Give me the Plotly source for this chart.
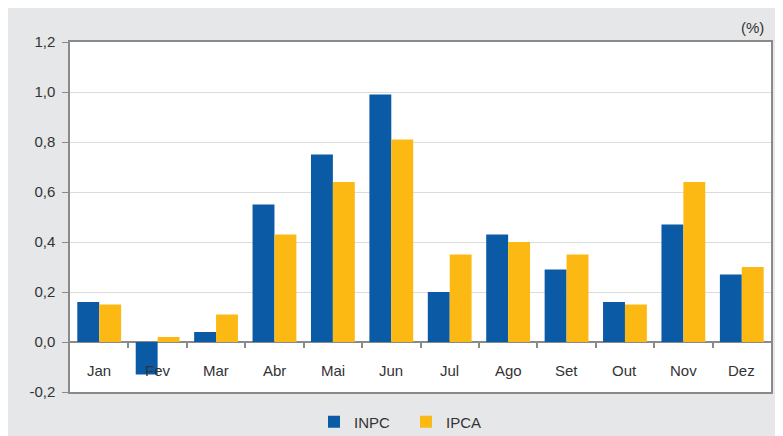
import plotly.graph_objects as go

months = ["Jan", "Fev", "Mar", "Abr", "Mai", "Jun", "Jul", "Ago", "Set", "Out", "Nov", "Dez"]
inpc = [0.16, -0.13, 0.04, 0.55, 0.75, 0.99, 0.20, 0.43, 0.29, 0.16, 0.47, 0.27]
ipca = [0.15, 0.02, 0.11, 0.43, 0.64, 0.81, 0.35, 0.40, 0.35, 0.15, 0.64, 0.30]
y_ticks = [-0.2, 0.0, 0.2, 0.4, 0.6, 0.8, 1.0, 1.2]
y_tick_text = ["-0,2", "0,0", "0,2", "0,4", "0,6", "0,8", "1,0", "1,2"]

BLUE = "#0a5aa6"
YELLOW = "#fdb913"
GRAY_BG = "#e6e7e8"
FRAME = "#8a8a8a"
TXT = "#333333"
FONT = "Liberation Sans, Arial, sans-serif"

# the page body adds an 8px offset, so the figure is sized to fit the window
OFF = 8
W, H = 783 - OFF, 436 - OFF
L, R, T, B = 70 - OFF, 783 - 771, 42 - OFF, 436 - 392
pw, ph = W - L - R, H - T - B

fig = go.Figure()
fig.add_trace(go.Bar(x=months, y=inpc, name="INPC", marker_color=BLUE, marker_line_width=0))
fig.add_trace(go.Bar(x=months, y=ipca, name="IPCA", marker_color=YELLOW, marker_line_width=0))

# month labels placed inside the plot, below the zero line
for m in months:
    fig.add_annotation(x=m, y=-0.112, xref="x", yref="y", text=m, showarrow=False,
                       font=dict(size=15, color=TXT, family=FONT))

fig.add_annotation(x=1.0, y=1.0, xref="paper", yref="paper", text="(%)", showarrow=False,
                   xanchor="right", yanchor="bottom", xshift=-5, yshift=4,
                   font=dict(size=15, color=TXT, family=FONT))

fig.add_shape(type="rect", xref="paper", yref="paper", layer="below",
              x0=(0 - L) / pw, x1=(770 - L) / pw, y0=(H - B - H) / ph, y1=(H - B - 0) / ph,
              fillcolor=GRAY_BG, line_width=0)
fig.add_shape(type="rect", xref="paper", yref="paper", layer="below",
              x0=0, x1=1, y0=0, y1=1, fillcolor="white", line_width=0)

ymin, ymax = -0.2, 1.2
fig.update_layout(
    width=W, height=H,
    margin=dict(l=L, r=R, t=T, b=B, pad=0, autoexpand=False),
    paper_bgcolor="white", plot_bgcolor="rgba(0,0,0,0)",
    barmode="group", bargap=0.25, bargroupgap=0,
    font=dict(family=FONT, color=TXT, size=15),
    showlegend=True,
    legend=dict(orientation="h", x=(334 - OFF - 20 - L) / pw, xanchor="left",
                y=-30 / ph, yanchor="middle",
                font=dict(size=15, color=TXT, family=FONT), bgcolor="rgba(0,0,0,0)",
                entrywidth=47, tracegroupgap=0),
    xaxis=dict(type="category", range=[-0.5, 11.5], showticklabels=False, ticks="",
               showline=True, mirror=True, linecolor=FRAME, linewidth=1.5,
               showgrid=False, zeroline=False, automargin=False),
    xaxis2=dict(overlaying="x", anchor="free", position=(0 - ymin) / (ymax - ymin),
                range=[-0.5, 11.5], tickmode="array",
                tickvals=[i + 0.5 for i in range(11)], ticks="outside", ticklen=5,
                tickwidth=1.5, tickcolor=FRAME, showticklabels=False, showline=False,
                showgrid=False, zeroline=False, side="bottom", automargin=False),
    yaxis=dict(range=[ymin, ymax], tickmode="array", tickvals=y_ticks, ticktext=y_tick_text,
               ticks="outside", ticklen=6, tickcolor=FRAME, tickwidth=1,
               showline=True, mirror=True, linecolor=FRAME, linewidth=1.5,
               showgrid=True, gridcolor="#dcdcdc", gridwidth=1,
               zeroline=True, zerolinecolor=FRAME, zerolinewidth=1.5,
               ticklabelstandoff=4, automargin=False,
               tickfont=dict(size=15, color=TXT, family=FONT)),
)
# invisible trace for xaxis2 so it renders
fig.add_trace(go.Scatter(x=[0], y=[0], xaxis="x2", yaxis="y", mode="markers",
                         marker=dict(opacity=0), showlegend=False, hoverinfo="skip"))

fig.write_html("out.html")
